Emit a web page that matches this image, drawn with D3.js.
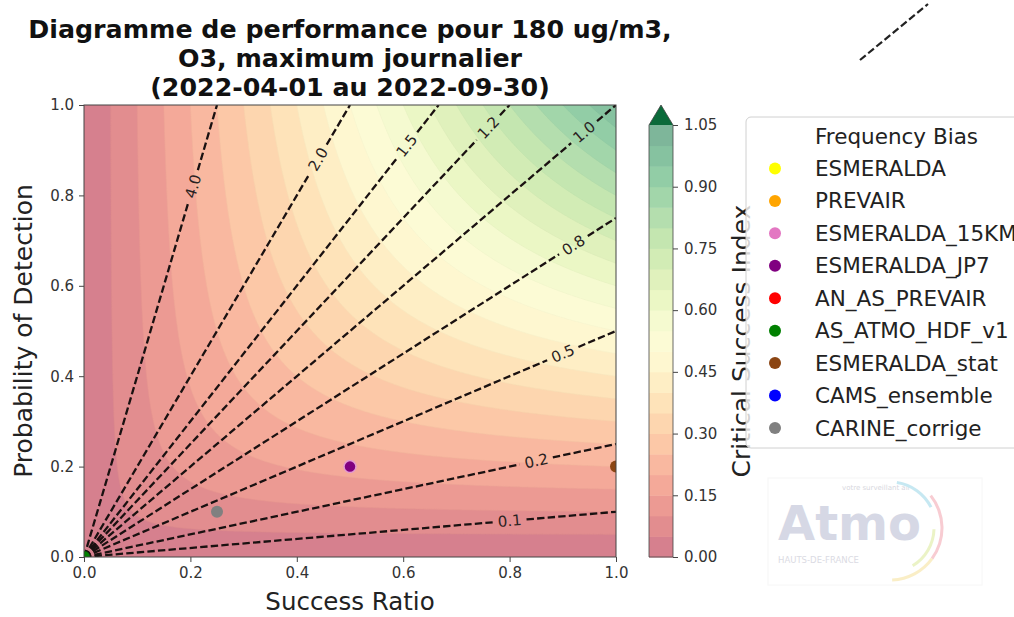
<!DOCTYPE html>
<html>
<head>
<meta charset="utf-8">
<script src="https://cdn.jsdelivr.net/npm/d3@7"></script>
<style>
  body { margin: 0; background: #fff; }
  svg { display: block; font-family: "DejaVu Sans", sans-serif; }
</style>
</head>
<body>
<div id="chart"></div>
<script>
const width = 1014;
const height = 617;

// frequency bias lines (labels are the %.1f strings matplotlib printed)
const biasValues = [0.1, 0.25, 0.5, 0.75, 1.0, 1.25, 1.5, 2.0, 4.0];
const biasLabels = ["0.1", "0.2", "0.5", "0.8", "1.0", "1.2", "1.5", "2.0", "4.0"];

// models (null = no point)
const models = ["ESMERALDA", "PREVAIR", "ESMERALDA_15KM", "ESMERALDA_JP7", "AN_AS_PREVAIR",
  "AS_ATMO_HDF_v1", "ESMERALDA_stat", "CAMS_ensemble", "CARINE_corrige"];
const modelColors = ["#ffff00", "#ffa500", "#e377c2", "#800080", "#ff0000",
  "#008000", "#8b4513", "#0000ff", "#808080"];
const successRatio = [null, null, null, 0.5, null, 0.0, 1.0, null, 0.25];
const probDetection = [null, null, null, 0.2, null, 0.0, 0.2, null, 0.1];

const axisTicks = [0, 0.2, 0.4, 0.6, 0.8, 1.0];
const csiLevels = d3.range(0, 21.5).map(i => i * 0.05); // 0 .. 1.05
const cbarTicks = [0, 0.15, 0.30, 0.45, 0.60, 0.75, 0.90, 1.05];

const titleLines = ["Diagramme de performance pour 180 ug/m3,", "O3, maximum journalier", "(2022-04-01 au 2022-09-30)"];

// where along each bias line its label sits (fraction of the visible segment)
const labelFrac = [0.80, 0.85, 0.90, 0.92, 0.94, 0.95, 0.91, 0.88, 0.82];

const plot = { left: 84, right: 616, top: 105, bottom: 557 };
const x = d3.scaleLinear().domain([0, 1]).range([plot.left, plot.right]);
const y = d3.scaleLinear().domain([0, 1]).range([plot.bottom, plot.top]);

const csiMax = 1.05;
const bandColor = v => d3.interpolateRgb("#ffffff", d3.interpolateRdYlGn(v / csiMax))(0.52);

const svg = d3.select("#chart").append("svg")
  .attr("width", width).attr("height", height)
  .attr("viewBox", `0 0 ${width} ${height}`);

svg.append("rect").attr("width", width).attr("height", height).attr("fill", "#fff");

const defs = svg.append("defs");
defs.append("clipPath").attr("id", "plotClip").append("rect")
  .attr("x", plot.left).attr("y", plot.top)
  .attr("width", plot.right - plot.left).attr("height", plot.bottom - plot.top);

// CSI field
const n = 241;
const grid = new Float64Array(n * n);
for (let j = 0; j < n; j++) {
  const pod = j / (n - 1);
  for (let i = 0; i < n; i++) {
    const sr = i / (n - 1);
    grid[j * n + i] = (sr === 0 || pod === 0) ? 0 : 1 / (1 / sr + 1 / pod - 1);
  }
}
const bands = d3.contours().size([n, n]).thresholds(csiLevels.slice(0, -1))(grid);
const gx = d3.scaleLinear().domain([0.5, n - 0.5]).range([x(0), x(1)]);
const gy = d3.scaleLinear().domain([0.5, n - 0.5]).range([y(0), y(1)]);
const path = d3.geoPath(d3.geoTransform({
  point(px, py) { this.stream.point(gx(px), gy(py)); }
}));

const plotG = svg.append("g").attr("clip-path", "url(#plotClip)");
plotG.append("rect")
  .attr("x", plot.left).attr("y", plot.top)
  .attr("width", plot.right - plot.left).attr("height", plot.bottom - plot.top)
  .attr("fill", bandColor(0.025));
plotG.selectAll("path.band").data(bands).join("path")
  .attr("class", "band")
  .attr("d", path)
  .attr("fill", d => bandColor(d.value + 0.025))
  .attr("stroke", d => d3.color(bandColor(d.value + 0.025)).darker(0.08))
  .attr("stroke-width", 0.6);

// bias lines with inline labels
const biasG = plotG.append("g");
biasValues.forEach((b, k) => {
  const xEnd = Math.min(1, 1 / b);
  const p0 = [x(0), y(0)];
  const p1 = [x(xEnd), y(b * xEnd)];
  const fl = labelFrac[k] * xEnd;
  const pl = [x(fl), y(b * fl)];
  const dx = p1[0] - p0[0], dy = p1[1] - p0[1];
  const len = Math.hypot(dx, dy);
  const ux = dx / len, uy = dy / len;
  const half = 17;
  const segs = [
    [p0, [pl[0] - half * ux, pl[1] - half * uy]],
    [[pl[0] + half * ux, pl[1] + half * uy], p1]
  ];
  segs.forEach(s => {
    biasG.append("line")
      .attr("x1", s[0][0]).attr("y1", s[0][1])
      .attr("x2", s[1][0]).attr("y2", s[1][1])
      .attr("stroke", "#1a1111")
      .attr("stroke-width", 2.3)
      .attr("stroke-dasharray", "7.4,3.2");
  });
  biasG.append("text")
    .attr("transform", `translate(${pl[0]},${pl[1]}) rotate(${Math.atan2(dy, dx) * 180 / Math.PI})`)
    .attr("text-anchor", "middle")
    .attr("dy", "0.35em")
    .style("font-size", "15px")
    .attr("fill", "#2a2222")
    .text(biasLabels[k]);
});

// model points
const pts = models.map((m, i) => ({ m, c: modelColors[i], sr: successRatio[i], pod: probDetection[i] }))
  .filter(d => d.sr !== null && d.pod !== null);
plotG.selectAll("circle.pt").data(pts).join("circle")
  .attr("class", "pt")
  .attr("cx", d => x(d.sr)).attr("cy", d => y(d.pod))
  .attr("r", 6)
  .attr("fill", d => d.c)
  .attr("stroke", d => d.m === "ESMERALDA_JP7" ? "#e49ad0" : "none")
  .attr("stroke-width", 1.5);

// frame
svg.append("rect")
  .attr("x", plot.left).attr("y", plot.top)
  .attr("width", plot.right - plot.left).attr("height", plot.bottom - plot.top)
  .attr("fill", "none").attr("stroke", "#444").attr("stroke-width", 1);

// axes
const fmt1 = d3.format(".1f");
const xAxis = svg.append("g").attr("transform", `translate(0,${plot.bottom})`)
  .call(d3.axisBottom(x).tickValues(axisTicks).tickFormat(fmt1).tickSize(5).tickPadding(5));
const yAxis = svg.append("g").attr("transform", `translate(${plot.left},0)`)
  .call(d3.axisLeft(y).tickValues(axisTicks).tickFormat(fmt1).tickSize(5).tickPadding(5));
[xAxis, yAxis].forEach(a => {
  a.select(".domain").remove();
  a.selectAll(".tick line").attr("stroke", "#444");
  a.selectAll(".tick text").style("font-size", "15px").style("font-family", "DejaVu Sans").attr("fill", "#333");
});

svg.append("text")
  .attr("x", x(0.5)).attr("y", 610)
  .attr("text-anchor", "middle")
  .style("font-size", "24.5px")
  .attr("fill", "#222")
  .text("Success Ratio");
svg.append("text")
  .attr("transform", `translate(32,${y(0.5)}) rotate(-90)`)
  .attr("text-anchor", "middle")
  .style("font-size", "25px")
  .attr("fill", "#222")
  .text("Probability of Detection");

// title
svg.append("g").selectAll("text").data(titleLines).join("text")
  .attr("x", x(0.5))
  .attr("y", (d, i) => 38 + i * 28.8)
  .attr("text-anchor", "middle")
  .style("font-size", "25.3px")
  .style("font-weight", "bold")
  .attr("fill", "#111")
  .text(d => d);

// colorbar
const cb = { left: 649, right: 673, arrow: 20 };
const cy = d3.scaleLinear().domain([0, csiMax]).range([plot.bottom, 125]);
const cbG = svg.append("g");
cbG.selectAll("rect").data(csiLevels.slice(0, -1)).join("rect")
  .attr("x", cb.left)
  .attr("y", d => cy(d + 0.05))
  .attr("width", cb.right - cb.left)
  .attr("height", d => cy(d) - cy(d + 0.05) + 0.5)
  .attr("fill", d => bandColor(d + 0.025));
cbG.append("path")
  .attr("d", `M${cb.left},${cy(csiMax)}L${(cb.left + cb.right) / 2},${cy(csiMax) - cb.arrow}L${cb.right},${cy(csiMax)}Z`)
  .attr("fill", "#0b6a3a");
cbG.append("path")
  .attr("d", `M${cb.left},${cy(0)}L${cb.left},${cy(csiMax)}L${(cb.left + cb.right) / 2},${cy(csiMax) - cb.arrow}L${cb.right},${cy(csiMax)}L${cb.right},${cy(0)}Z`)
  .attr("fill", "none").attr("stroke", "#444").attr("stroke-width", 0.8);
const cAxis = svg.append("g").attr("transform", `translate(${cb.right},0)`)
  .call(d3.axisRight(cy).tickValues(cbarTicks).tickFormat(d3.format(".2f")).tickSize(5).tickPadding(6));
cAxis.select(".domain").remove();
cAxis.selectAll(".tick line").attr("stroke", "#444");
cAxis.selectAll(".tick text").style("font-size", "15px").style("font-family", "DejaVu Sans").attr("fill", "#333");

svg.append("text")
  .attr("transform", `translate(750,${cy(csiMax / 2)}) rotate(-90)`)
  .attr("text-anchor", "middle")
  .style("font-size", "25px")
  .attr("fill", "#222")
  .text("Critical Success Index");

// legend
const lg = { left: 746, top: 117, bottom: 448 };
const legendRows = ["Frequency Bias"].concat(models);
const rowY = d3.scaleLinear().domain([0, legendRows.length - 1]).range([136, 428]);
const legend = svg.append("g");
legend.append("rect")
  .attr("x", lg.left).attr("y", lg.top)
  .attr("width", 320).attr("height", lg.bottom - lg.top)
  .attr("rx", 5)
  .attr("fill", "#fff").attr("fill-opacity", 0.8)
  .attr("stroke", "#d0d0d0");
legend.selectAll("text").data(legendRows).join("text")
  .attr("x", 815).attr("y", (d, i) => rowY(i))
  .attr("dy", "0.35em")
  .style("font-size", "21.5px")
  .attr("fill", "#222")
  .text(d => d);
legend.selectAll("circle").data(modelColors).join("circle")
  .attr("cx", 775).attr("cy", (d, i) => rowY(i + 1))
  .attr("r", 6)
  .attr("fill", d => d);

// stray dashed handle of the "Frequency Bias" legend entry
svg.append("line")
  .attr("x1", 860).attr("y1", 60).attr("x2", 928).attr("y2", 4)
  .attr("stroke", "#222").attr("stroke-width", 2.2)
  .attr("stroke-dasharray", "7.4,3.2");

// faint logo
const logo = svg.append("g").attr("opacity", 0.5);
logo.append("rect")
  .attr("x", 768).attr("y", 478).attr("width", 214).attr("height", 107)
  .attr("fill", "#fff").attr("stroke", "#f0f0f0");
logo.append("text")
  .attr("x", 778).attr("y", 540)
  .style("font-size", "48px").style("font-weight", "bold")
  .attr("fill", "#aeb3cc")
  .text("Atmo");
logo.append("text")
  .attr("x", 842).attr("y", 490)
  .style("font-size", "7px")
  .attr("fill", "#b0b0c0")
  .text("votre surveillant air");
logo.append("text")
  .attr("x", 778).attr("y", 563)
  .style("font-size", "8.5px")
  .attr("fill", "#b8b8c8")
  .text("HAUTS-DE-FRANCE");
const arc = d3.arc();
[
  { r: 46, a0: 0.15, a1: 1.1, c: "#8fd3e6" },
  { r: 52, a0: 0.9, a1: 2.2, c: "#f29aa6" },
  { r: 44, a0: 1.6, a1: 2.6, c: "#d9e88f" },
  { r: 52, a0: 2.2, a1: 3.1, c: "#f6df8f" }
].forEach(a => {
  logo.append("path")
    .attr("transform", "translate(890,528)")
    .attr("d", arc({ innerRadius: a.r - 1.5, outerRadius: a.r + 1.5, startAngle: a.a0, endAngle: a.a1 }))
    .attr("fill", a.c);
});
</script>
</body>
</html>
